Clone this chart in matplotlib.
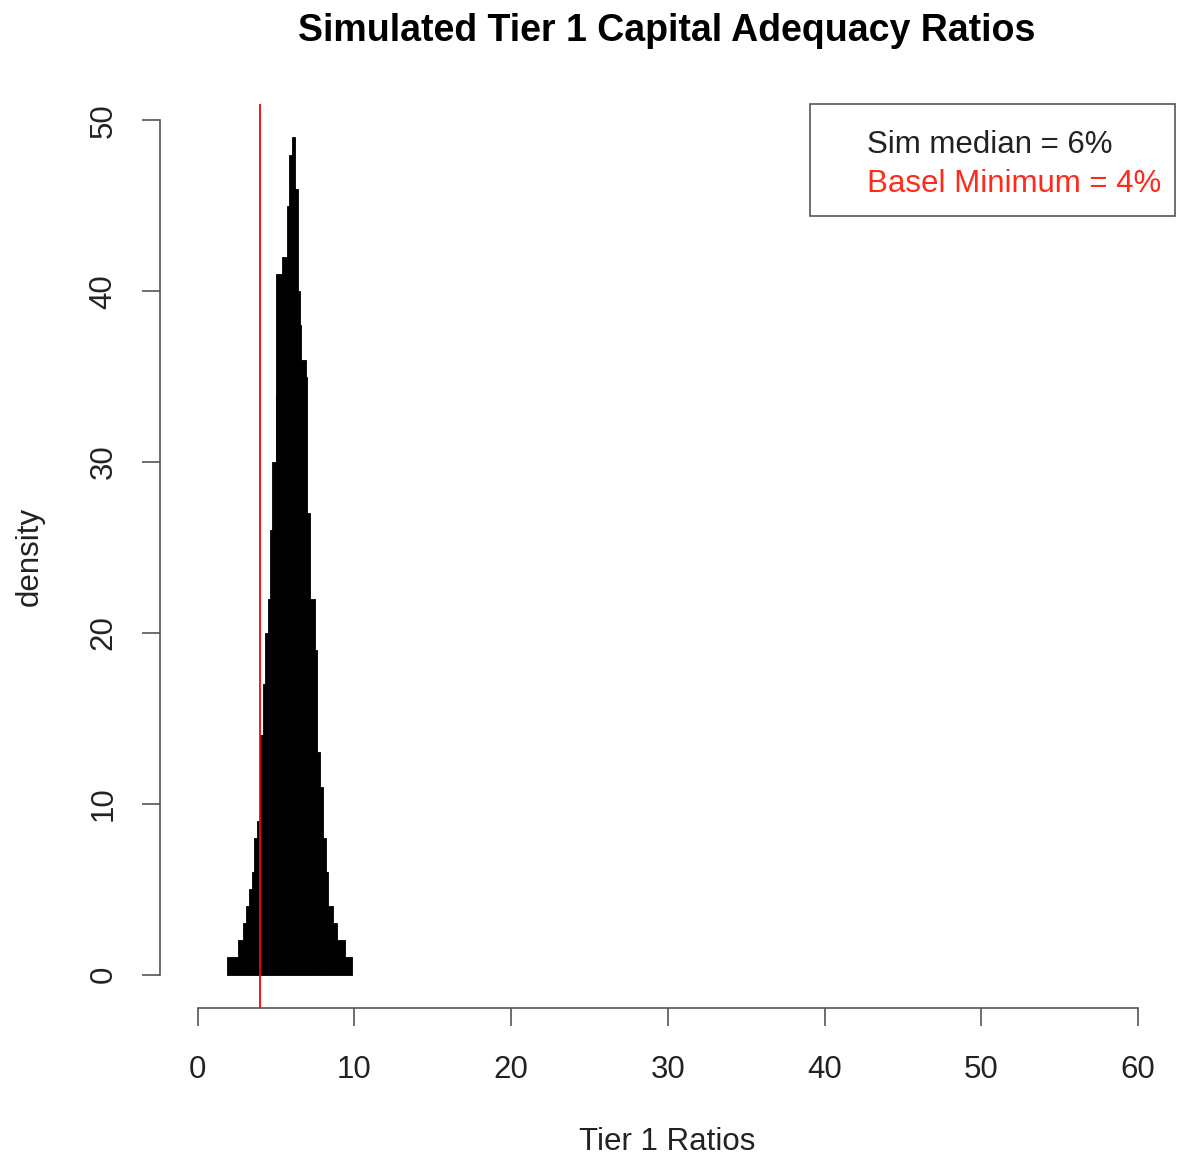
import matplotlib
matplotlib.use('Agg')
import matplotlib.pyplot as plt
from matplotlib.patches import Rectangle
import numpy as np

plt.rcParams['font.family'] = ['Liberation Sans', 'DejaVu Sans']

# step edges and heights
bin_edges = [1.9, 2.6, 2.9, 3.1, 3.3, 3.45, 3.57, 3.8, 4.0, 4.2, 4.3, 4.5, 4.65,
             4.76, 4.97, 5.03, 5.4, 5.7, 5.86, 6.05, 6.2, 6.4, 6.56, 6.6, 6.9,
             7.0, 7.2, 7.5, 7.6, 7.8, 8.0, 8.2, 8.35, 8.67, 8.9, 9.4, 9.83]
density = [1, 2, 3, 4, 5, 6, 8, 9, 14, 17, 20, 22, 26, 30, 34, 41, 42, 45, 48,
           49, 46, 40, 38, 36, 35, 27, 22, 19, 13, 11, 8, 6, 4, 3, 2, 1]
x_ticks = [0, 10, 20, 30, 40, 50, 60]
y_ticks = [0, 10, 20, 30, 40, 50]
basel_min = 4
sim_median = 6

fig = plt.figure(figsize=(11.77, 11.6), dpi=100)
W, H = 1177, 1160
ax = fig.add_axes([160 / W, 1 - 1008 / H, (1175.6 - 160) / W, (1008 - 104) / H])

edges = np.array(bin_edges)
ax.bar(edges[:-1], density, width=np.diff(edges), align='edge',
       color='black', edgecolor='black', linewidth=0.6)
ax.axvline(basel_min, color='#ff0000', linewidth=1.3)

ax.set_xlim(-2.4, 62.4)
ax.set_ylim(-0.04 * max(density), 1.04 * max(density))

for s in ['top', 'right']:
    ax.spines[s].set_visible(False)
ax.spines['left'].set_bounds(0, 50)
ax.spines['bottom'].set_bounds(0, 60)
for s in ['left', 'bottom']:
    ax.spines[s].set_color('#555555')
    ax.spines[s].set_linewidth(1.2)

ax.set_xticks(x_ticks)
ax.set_yticks(y_ticks)
ax.tick_params(axis='both', length=13, width=1.2, color='#555555',
               labelsize=22.5, labelcolor='#222222')
ax.tick_params(axis='x', pad=21)
ax.tick_params(axis='y', pad=17)
for lab in ax.get_yticklabels():
    lab.set_rotation(90)
    lab.set_va('center')

fig.text(667 / W, 1 - 31 / H, 'Simulated Tier 1 Capital Adequacy Ratios',
         ha='center', va='center', fontsize=27, fontweight='bold')
fig.text(667 / W, 1 - 1142 / H, 'Tier 1 Ratios', ha='center', va='center',
         fontsize=22.5, color='#222222')
fig.text(30 / W, 1 - 556 / H, 'density', ha='center', va='center',
         rotation=90, fontsize=22.5, color='#222222')

# legend box drawn by hand, R style with empty symbol column
fig.patches.append(Rectangle((810 / W, 1 - 216 / H), 365 / W, 112 / H,
                             transform=fig.transFigure, fill=False,
                             edgecolor='#555555', linewidth=1.2))
fig.text(867 / W, 1 - 145 / H, 'Sim median = %d%%' % sim_median,
         ha='left', va='center', fontsize=22.5, color='#222222')
fig.text(867 / W, 1 - 184 / H, 'Basel Minimum = %d%%' % basel_min,
         ha='left', va='center', fontsize=22.5, color='#ff2a1a')

fig.savefig('out.png', dpi=100)
plt.close(fig)
